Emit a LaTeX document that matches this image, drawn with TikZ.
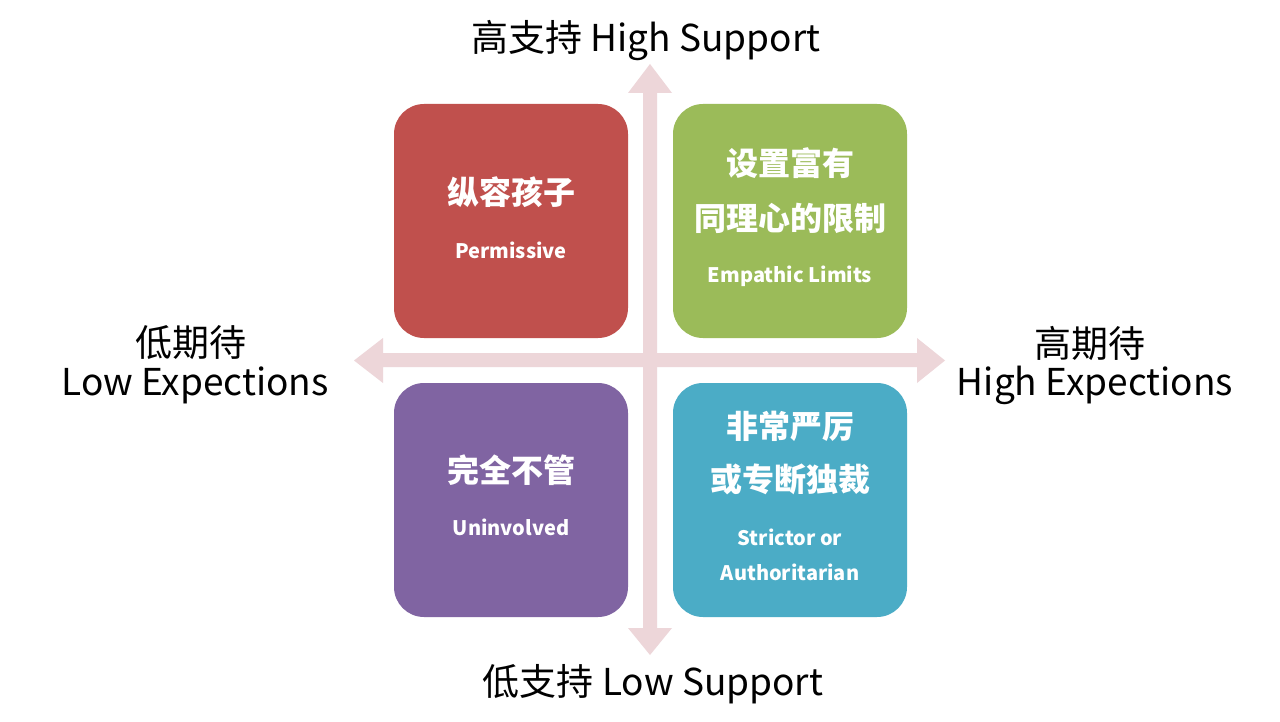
\documentclass[tikz,border=0pt]{standalone}
\usepackage{fontspec}
\setmainfont{Noto Sans CJK SC}
\newfontfamily\cjk{Noto Sans CJK SC}
\definecolor{cred}{HTML}{C0504D}
\definecolor{cgreen}{HTML}{9BBB59}
\definecolor{cpurple}{HTML}{8064A2}
\definecolor{cblue}{HTML}{4BACC6}
\definecolor{carrow}{HTML}{EDD6D9}
\begin{document}
\begin{tikzpicture}[x=0.5pt,y=-0.5pt,
  quad/.style={rounded corners=15pt,minimum width=117pt,minimum height=117pt,inner sep=0pt},
  zh/.style={text=white,font=\cjk\bfseries\fontsize{16pt}{19pt}\selectfont,align=center},
  en/.style={text=white,font=\cjk\bfseries\fontsize{10pt}{12pt}\selectfont,align=center},
  axlab/.style={text=black,font=\cjk\fontsize{18.5pt}{21pt}\selectfont,align=center}]
\useasboundingbox[fill=white] (0,0) rectangle (1280,722);
% arrows
\fill[carrow] (643,93) -- (628,93) -- (650,64) -- (672,93) -- (657,93) -- (657,628) -- (672,628) -- (650,655) -- (628,628) -- (643,628) -- cycle;
\fill[carrow] (383,353) -- (383,338) -- (354,360.5) -- (383,383) -- (383,367) -- (917,367) -- (917,383) -- (945,360.5) -- (917,338) -- (917,353) -- cycle;
% boxes
\node[quad,fill=cred] (red) at (511,221) {};
\node[quad,fill=cgreen] (green) at (790,221) {};
\node[quad,fill=cpurple] (purple) at (511,500) {};
\node[quad,fill=cblue] (blue) at (790,500) {};
% box texts
\node[zh] (r1) at (511,192) {纵容孩子};
\node[en] (r2) at (511,250) {Permissive};
\node[zh] (g1) at (790,163) {设置富有};
\node[zh] (g2) at (790,218) {同理心的限制};
\node[en] (g3) at (790,276) {Empathic Limits};
\node[zh] (p1) at (511,470) {完全不管};
\node[en] (p2) at (511,527) {Uninvolved};
\node[zh] (b1) at (790,426) {非常严厉};
\node[zh] (b2) at (790,479) {或专断独裁};
\node[en] (b3) at (790,537) {Strictor or};
\node[en] (b4) at (790,572) {Authoritarian};
% axis labels
\node[axlab] (top) at (646,41) {高支持 High Support};
\node[axlab] (bot) at (653,684) {低支持 Low Support};
\node[axlab] (l1) at (191,343) {低期待};
\node[axlab] (l2) at (195,385) {Low Expections};
\node[axlab] (rr1) at (1090,343) {高期待};
\node[axlab] (rr2) at (1095,385) {High Expections};
\end{tikzpicture}
\end{document}
